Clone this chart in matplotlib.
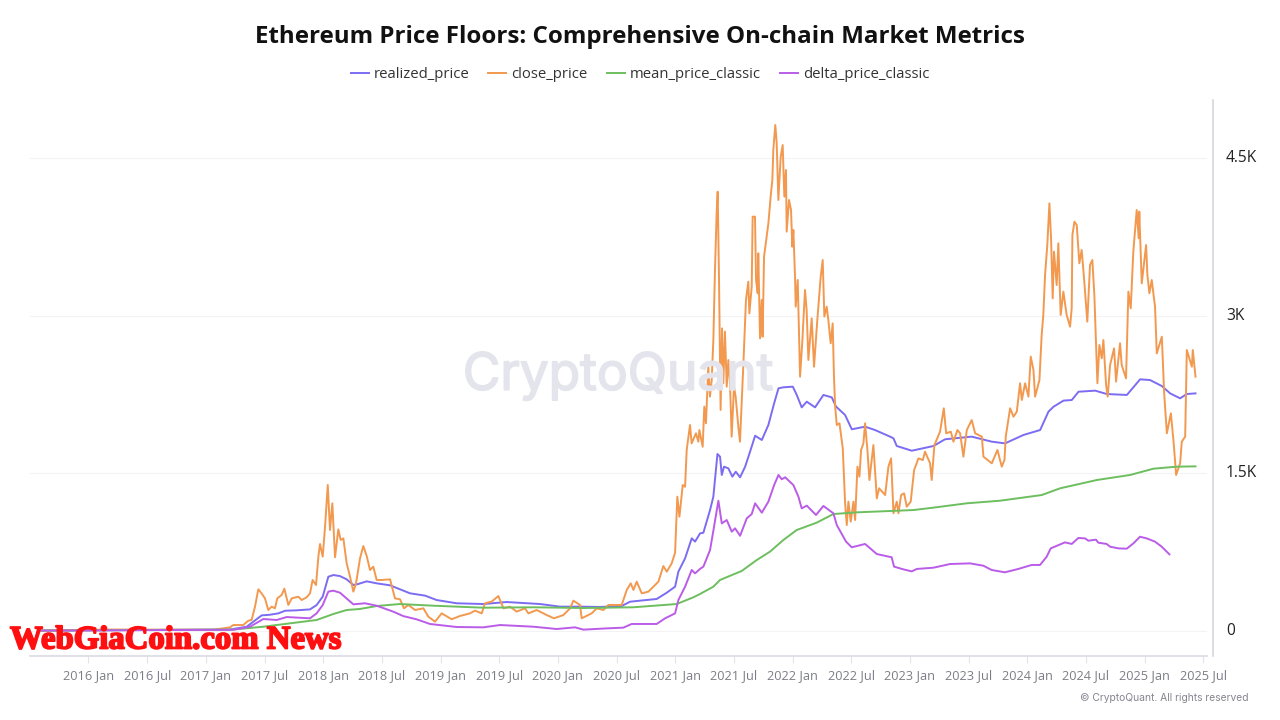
import numpy as np
import matplotlib
matplotlib.use('Agg')
import matplotlib.pyplot as plt
import matplotlib.patheffects as pe
from matplotlib.lines import Line2D

# all dates are decimal years, prices in USD
close_years = [
    2015.60, 2016.183, 2017.064, 2017.206, 2017.234, 2017.319, 2017.362, 2017.39, 2017.419, 2017.447,
    2017.475, 2017.504, 2017.532, 2017.561, 2017.589, 2017.609, 2017.646, 2017.669, 2017.703, 2017.732,
    2017.788, 2017.817, 2017.859, 2017.888, 2017.91, 2017.939, 2017.959, 2017.973, 2017.996, 2018.016,
    2018.039, 2018.058, 2018.078, 2018.101, 2018.129, 2018.149, 2018.172, 2018.2, 2018.229, 2018.257,
    2018.28, 2018.314, 2018.342, 2018.371, 2018.399, 2018.427, 2018.456, 2018.499, 2018.57, 2018.612,
    2018.655, 2018.689, 2018.726, 2018.783, 2018.854, 2018.896, 2018.953, 2019.01, 2019.095, 2019.166,
    2019.251, 2019.294, 2019.351, 2019.379, 2019.436, 2019.493, 2019.536, 2019.592, 2019.649, 2019.72,
    2019.749, 2019.82, 2019.905, 2019.967, 2020.047, 2020.104, 2020.132, 2020.189, 2020.203, 2020.288,
    2020.331, 2020.388, 2020.43, 2020.544, 2020.587, 2020.621, 2020.644, 2020.672, 2020.715, 2020.772,
    2020.857, 2020.899, 2020.928, 2020.97, 2020.999, 2021.018, 2021.036, 2021.064, 2021.084, 2021.098,
    2021.126, 2021.14, 2021.177, 2021.197, 2021.206, 2021.234, 2021.248, 2021.262, 2021.282, 2021.296,
    2021.311, 2021.325, 2021.339, 2021.353, 2021.362, 2021.373, 2021.387, 2021.399, 2021.41, 2021.424,
    2021.439, 2021.453, 2021.467, 2021.481, 2021.501, 2021.515, 2021.538, 2021.552, 2021.58, 2021.603,
    2021.623, 2021.632, 2021.652, 2021.66, 2021.68, 2021.689, 2021.703, 2021.708, 2021.723, 2021.737,
    2021.745, 2021.757, 2021.794, 2021.816, 2021.828, 2021.836, 2021.853,
    2021.865, 2021.879, 2021.899, 2021.916, 2021.93, 2021.944, 2021.95, 2021.97, 2021.987, 2021.998,
    2022.007, 2022.021, 2022.027, 2022.044, 2022.064, 2022.084, 2022.106, 2022.12, 2022.135, 2022.163,
    2022.183, 2022.211, 2022.24, 2022.257, 2022.271, 2022.291, 2022.305, 2022.325, 2022.342, 2022.353,
    2022.363, 2022.377, 2022.4, 2022.428, 2022.448, 2022.462, 2022.476, 2022.496, 2022.519, 2022.533,
    2022.553, 2022.57, 2022.584, 2022.604, 2022.618, 2022.638, 2022.655, 2022.689, 2022.718, 2022.738,
    2022.789, 2022.817, 2022.84, 2022.86, 2022.888, 2022.903, 2022.925, 2022.951, 2022.973, 2023.007,
    2023.036, 2023.073, 2023.11, 2023.129, 2023.172, 2023.186, 2023.209, 2023.257, 2023.289, 2023.309,
    2023.349, 2023.371, 2023.405, 2023.428, 2023.456, 2023.485, 2023.527, 2023.556, 2023.613, 2023.627,
    2023.698, 2023.746, 2023.783, 2023.806, 2023.817, 2023.854, 2023.883, 2023.911, 2023.939, 2023.954,
    2023.982, 2024.01, 2024.03, 2024.053, 2024.067, 2024.104,
    2024.123, 2024.137, 2024.152, 2024.171, 2024.189, 2024.203, 2024.217, 2024.228, 2024.251, 2024.265,
    2024.285, 2024.308, 2024.336, 2024.365, 2024.379, 2024.385, 2024.402, 2024.422, 2024.444, 2024.464,
    2024.484, 2024.512, 2024.535, 2024.555, 2024.572, 2024.598, 2024.615, 2024.635, 2024.649, 2024.672,
    2024.686, 2024.706, 2024.74, 2024.757, 2024.791, 2024.805, 2024.842, 2024.862, 2024.882, 2024.904,
    2024.933, 2024.95, 2024.955, 2024.976, 2025.013, 2025.024,
    2025.041, 2025.061, 2025.089, 2025.104,
    2025.147, 2025.167, 2025.19, 2025.224, 2025.247, 2025.269, 2025.303, 2025.317, 2025.346, 2025.36,
    2025.403, 2025.411, 2025.434,
]
close_values = [
    1, 12, 10, 33, 55, 55, 96, 103, 230, 395,
    357, 309, 198, 230, 214, 309, 341, 401, 246, 309,
    325, 293, 319, 357, 484, 436, 706, 827, 706, 992,
    1389, 960, 1214, 700, 966, 865, 880, 643, 515, 373,
    452, 690, 807, 712, 579, 611, 484, 484, 490, 309,
    300, 214, 246, 198, 214, 135, 87, 166, 110, 141,
    166, 192, 166, 262, 278, 331, 214, 230, 183, 214,
    166, 198, 150, 119, 150, 214, 287, 246, 119, 166,
    214, 198, 246, 246, 389, 452, 389, 468, 357, 373,
    468, 617, 563, 642, 744, 1277, 1087, 1388, 1372, 1722,
    1960, 1785, 1881, 1801, 1912, 1753, 2135, 1976, 2515, 2230,
    2388, 2769, 3436, 3976, 4182, 3373, 2103, 2880, 2357, 2849,
    2325, 2579, 2357, 1849, 2325, 2230, 1944, 1801, 2515, 3150,
    3325, 3023, 3277, 3944, 3944, 3341, 3214, 3595, 2785, 3150,
    2801, 3563, 3880, 4166, 4293, 4579, 4817,
    4642, 4103, 4515, 4626, 4135, 4388, 3801, 4103, 4007, 3658,
    3817, 3373, 3087, 3341, 2420, 2769, 3246, 3055, 2579, 2976,
    2515, 2960, 3373, 3531, 2992, 3087, 2960, 2738, 2928, 2420,
    2135, 1960, 1976, 1738, 1214, 1007, 1230, 1039, 1230, 1055,
    1563, 1468, 1722, 1785, 1976, 1722, 1436, 1769, 1261, 1357,
    1293, 1563, 1642, 1119, 1230, 1119, 1293, 1309, 1182, 1230,
    1531, 1642, 1626, 1706, 1595, 1436, 1769, 1896, 2119, 1881,
    1896, 1801, 1912, 1881, 1658, 1912, 2007, 1881, 1849, 1658,
    1595, 1722, 1563, 1627, 1849, 2119, 2039, 2087, 2357, 2198,
    2357, 2230, 2611, 2484, 2230, 2388,
    2817, 3008, 3389, 3674, 4071, 3738, 3166, 3611, 3293, 3690,
    3008, 3230, 3008, 2896, 3071, 3769, 3896, 3865, 3500, 3627,
    3357, 2944, 3484, 3531, 3198, 2357, 2722, 2595, 2769, 2341,
    2230, 2531, 2690, 2373, 2738, 2531, 2404, 3230, 3071, 3611,
    4007, 3738, 3992, 3309, 3674, 3389,
    3214, 3341, 3087, 2642,
    2801, 2261, 1881, 2071, 1801, 1484, 1595, 1801, 1849, 2674,
    2515, 2674, 2420,
]

realized_years = [
    2015.6, 2017.206, 2017.348, 2017.405, 2017.476, 2017.547, 2017.618, 2017.675, 2017.774, 2017.888,
    2017.944, 2017.996, 2018.044, 2018.087, 2018.143, 2018.2, 2018.257, 2018.299, 2018.371, 2018.456,
    2018.57, 2018.655, 2018.74, 2018.868, 2018.967, 2019.138, 2019.365, 2019.564, 2019.848, 2020.019,
    2020.189, 2020.359, 2020.544, 2020.615, 2020.7, 2020.842, 2020.928, 2020.999, 2021.027, 2021.084,
    2021.141, 2021.169, 2021.212, 2021.24, 2021.297, 2021.325, 2021.36, 2021.382, 2021.397, 2021.416,
    2021.453, 2021.487, 2021.516, 2021.553, 2021.596, 2021.638, 2021.681, 2021.738, 2021.794, 2021.843,
    2021.88, 2021.922, 2022.002, 2022.036, 2022.078, 2022.121, 2022.192, 2022.263, 2022.334, 2022.371,
    2022.448, 2022.505, 2022.618, 2022.703, 2022.831, 2022.86, 2022.888, 2023.016, 2023.201, 2023.3,
    2023.527, 2023.698, 2023.811, 2023.968, 2024.11, 2024.181, 2024.224, 2024.309, 2024.38, 2024.437,
    2024.579, 2024.678, 2024.849, 2024.962, 2025.047, 2025.147, 2025.218, 2025.303, 2025.36, 2025.434,
]
realized_values = [
    2, 12, 39, 87, 147, 153, 166, 191, 195, 204,
    245, 325, 515, 531, 521, 490, 436, 446, 471, 452,
    433, 395, 357, 335, 293, 262, 255, 274, 255, 230,
    230, 227, 236, 277, 287, 303, 363, 420, 563, 690,
    881, 849, 928, 934, 1150, 1277, 1684, 1658, 1484, 1563,
    1547, 1468, 1515, 1462, 1563, 1706, 1858, 1817, 1960, 2166,
    2309, 2319, 2325, 2246, 2128, 2182, 2128, 2246, 2223, 2135,
    2055, 1919, 1944, 1912, 1849, 1833, 1760, 1715, 1760, 1824,
    1849, 1801, 1785, 1865, 1912, 2087, 2134, 2192, 2198, 2277,
    2287, 2255, 2246, 2395, 2388, 2331, 2261, 2214, 2255, 2261,
]

mean_years = [
    2015.6, 2017.234, 2017.49, 2017.717, 2017.944, 2018.087, 2018.2, 2018.314, 2018.456, 2018.655,
    2018.939, 2019.365, 2019.791, 2020.217, 2020.644, 2021.013, 2021.155, 2021.212, 2021.325, 2021.382,
    2021.567, 2021.695, 2021.808, 2021.922, 2022.036, 2022.206, 2022.348, 2022.547, 2023.03, 2023.201,
    2023.484, 2023.769, 2023.854, 2024.124, 2024.28, 2024.593, 2024.877, 2025.076, 2025.275, 2025.434,
]
mean_values = [
    2, 12, 39, 71, 103, 160, 198, 208, 236, 255,
    239, 220, 224, 217, 224, 255, 319, 351, 420, 484,
    570, 674, 754, 865, 960, 1030, 1112, 1128, 1150, 1173,
    1214, 1239, 1252, 1293, 1357, 1436, 1484, 1544, 1563, 1566,
]

delta_years = [
    2015.6, 2017.234, 2017.376, 2017.49, 2017.604, 2017.689, 2017.888, 2017.944, 2017.996, 2018.044,
    2018.087, 2018.143, 2018.257, 2018.356, 2018.456, 2018.598, 2018.683, 2018.797, 2018.91, 2019.138,
    2019.365, 2019.507, 2019.791, 2019.99, 2020.146, 2020.217, 2020.416, 2020.558, 2020.629, 2020.842,
    2020.914, 2020.999, 2021.027, 2021.084, 2021.141, 2021.169, 2021.212, 2021.24, 2021.297, 2021.331,
    2021.368, 2021.397, 2021.439, 2021.482, 2021.51, 2021.553, 2021.61, 2021.652, 2021.681, 2021.738,
    2021.794, 2021.843, 2021.88, 2021.908, 2021.937, 2022.007, 2022.05, 2022.078, 2022.121, 2022.2,
    2022.263, 2022.348, 2022.377, 2022.456, 2022.505, 2022.618, 2022.718, 2022.845, 2022.865, 2022.945,
    2023.016, 2023.059, 2023.201, 2023.342, 2023.513, 2023.626, 2023.697, 2023.81, 2023.924, 2024.038,
    2024.109, 2024.166, 2024.2, 2024.322, 2024.379, 2024.436, 2024.493, 2024.521, 2024.586, 2024.606,
    2024.677, 2024.706, 2024.777, 2024.848, 2024.905, 2024.961, 2025.018, 2025.089, 2025.146, 2025.212,
]
delta_values = [
    2, 10, 39, 112, 103, 131, 119, 166, 245, 373,
    382, 363, 252, 262, 239, 182, 140, 109, 65, 36,
    33, 55, 39, 17, 33, 11, 23, 30, 65, 65,
    119, 166, 293, 420, 579, 547, 590, 611, 769, 992,
    1239, 1023, 1055, 944, 976, 905, 1071, 1112, 1214, 1125,
    1230, 1388, 1484, 1443, 1462, 1388, 1277, 1166, 1192, 1103,
    1189, 1119, 1007, 849, 795, 827, 731, 700, 611, 585,
    566, 589, 601, 636, 642, 620, 579, 557, 589, 627,
    627, 706, 785, 842, 827, 884, 880, 858, 868, 839,
    827, 801, 785, 782, 833, 896, 880, 849, 801, 728,
]

tick_years = [2016 + 0.5 * i for i in range(20)]
tick_labels = [f"{2016 + i // 2} {'Jan' if i % 2 == 0 else 'Jul'}" for i in range(20)]
y_ticks = [0, 1500, 3000, 4500]
y_labels = ['0', '1.5K', '3K', '4.5K']

series = [
    ('realized_price', realized_years, realized_values, '#7B6CF2'),
    ('close_price', close_years, close_values, '#F2994F'),
    ('mean_price_classic', mean_years, mean_values, '#6DBE5E'),
    ('delta_price_classic', delta_years, delta_values, '#BA5CE8'),
]

W, H = 1280, 720
plt.rcParams['font.family'] = ['Open Sans', 'DejaVu Sans']

fig = plt.figure(figsize=(12.8, 7.2), dpi=100)
ax = fig.add_axes([30 / W, 1 - 656 / H, (1207 - 30) / W, (656 - 100) / H])
ax.set_xlim(2015.5015, 2025.532)
ax.set_ylim(-240, 5055)

for name, xs, ys, color in series:
    ax.plot(xs, ys, color=color, lw=1.4, solid_joinstyle='round', zorder=3, label=name)

ax.grid(axis='y', color='#F3F3F6', lw=0.8)
ax.set_axisbelow(True)
for s in ['top', 'left', 'right']:
    ax.spines[s].set_visible(False)
ax.spines['bottom'].set_color('#DADAE3')
ax.spines['bottom'].set_linewidth(1.2)

ax.set_xticks(tick_years)
ax.set_xticklabels(tick_labels, fontsize=9.2, color='#7D7D88')
ax.tick_params(axis='x', length=5, width=0.8, color='#E3E3EA', pad=4.5)
ax.set_yticks(y_ticks)
ax.set_yticklabels([])
ax.tick_params(axis='y', length=0)

# right hand axis sits a bit away from the plot area
fig.add_artist(Line2D([1213 / W, 1213 / W], [1 - 656 / H, 1 - 100 / H], color='#D5D5DE', lw=1.2))
for v, lab in zip(y_ticks, y_labels):
    ax.annotate(lab, xy=(0, v), xycoords=('axes fraction', 'data'),
                xytext=(1226 / W, 0), textcoords=('figure fraction', 'offset points'),
                fontsize=11.2, color='#222222', va='center', ha='left', annotation_clip=False)

fig.text(640 / W, 1 - 37 / H, 'Ethereum Price Floors: Comprehensive On-chain Market Metrics',
         fontsize=17.35, fontweight='bold', color='#111111', ha='center', va='center')

legend_line_x = [351, 488, 607, 780]
for lx, (name, xs, ys, color) in zip(legend_line_x, series):
    fig.add_artist(Line2D([lx / W, (lx + 18) / W], [1 - 72.5 / H, 1 - 72.5 / H], color=color, lw=1.4))
    fig.text((lx + 23) / W, 1 - 74 / H, name, fontsize=10.7, color='#333333', ha='left', va='center')

fig.text(618 / W, 1 - 376 / H, 'CryptoQuant', fontsize=37, color='#E4E4EC', ha='center', va='center',
         family='Inter', zorder=0, path_effects=[pe.withStroke(linewidth=1.2, foreground='#E4E4EC')])
fig.text(1248 / W, 1 - 698 / H, '© CryptoQuant. All rights reserved', fontsize=7.4, color='#85858F',
         ha='right', va='center', family='Inter')

fig.text(10 / W, 1 - 640 / H, 'WebGiaCoin.com News', fontsize=23.6, color='#FF0F0F', ha='left', va='center',
         family='Liberation Serif', fontweight='bold', zorder=10,
         path_effects=[pe.withStroke(linewidth=1.3, foreground='#FF0F0F')])

fig.savefig('out.png', dpi=100)
